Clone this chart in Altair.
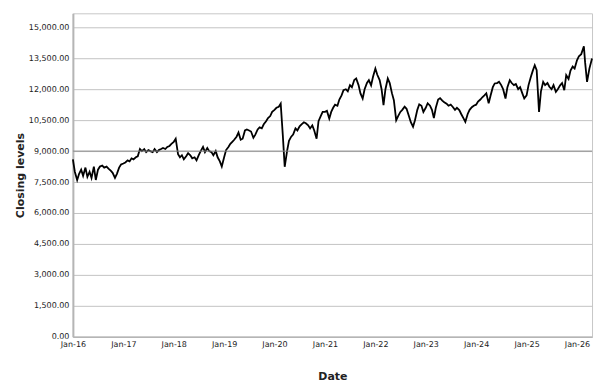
import altair as alt
import pandas as pd

# Semi-monthly closing levels (1st and 15th of each month)
v2016 = [8600, 8000, 7600, 7900, 8100, 7800, 8200, 7750, 8000, 7700, 8250, 7600,
         8100, 8250, 8300, 8200, 8250, 8150, 8050, 7950, 7700, 7900, 8200, 8350]
v2017 = [8400, 8450, 8550, 8500, 8650, 8600, 8700, 8750, 9100, 9000, 9100, 8950,
         9050, 9000, 8950, 9100, 8950, 9050, 9100, 9150, 9100, 9200, 9250, 9350]
v2018 = [9450, 9600, 8850, 8700, 8800, 8600, 8750, 8900, 8800, 8650, 8700, 8550,
         8800, 9000, 9200, 8950, 9150, 9000, 8950, 8800, 9000, 8700, 8500, 8250]
v2019 = [8700, 9050, 9200, 9350, 9450, 9550, 9700, 9900, 9550, 9600, 10000, 10050,
         10000, 9950, 9650, 9800, 10050, 10150, 10100, 10300, 10450, 10600, 10700, 10900]
v2020 = [11000, 11100, 11150, 11300, 9800, 8240, 9000, 9500, 9700, 9800, 10100, 10000,
         10200, 10300, 10400, 10350, 10250, 10100, 10250, 10000, 9600, 10450, 10700, 10900]
v2021 = [10900, 10950, 10580, 10900, 11100, 11250, 11200, 11500, 11700, 11950, 12000, 11900,
         12200, 12100, 12450, 12520, 12200, 11800, 11550, 12000, 12300, 12440, 12190, 12600]
v2022 = [13000, 12700, 12440, 12000, 11230, 12000, 12520, 12300, 11810, 11470, 10500, 10700,
         10900, 11000, 11150, 11050, 10700, 10400, 10180, 10500, 11000, 11270, 11200, 10900]
v2023 = [11100, 11320, 11200, 11000, 10600, 11100, 11500, 11570, 11450, 11370, 11300, 11200,
         11250, 11150, 11000, 11100, 10990, 10800, 10600, 10420, 10800, 11000, 11130, 11200]
v2024 = [11250, 11400, 11500, 11610, 11700, 11800, 11320, 11700, 12100, 12280, 12300, 12360,
         12200, 12000, 11550, 12100, 12440, 12300, 12200, 12250, 12000, 12100, 11800, 11550]
v2025 = [11700, 12200, 12600, 12900, 13160, 12920, 10900, 11900, 12360, 12200, 12300, 12120,
         12000, 12200, 11870, 12000, 12190, 12300, 11950, 12680, 12500, 12900, 13100, 13000]
v2026 = [13400, 13600, 13700, 14080, 13300, 12360, 13000, 13490]
dates2026 = ["2026-01-01", "2026-01-15", "2026-02-01", "2026-02-20",
             "2026-03-01", "2026-03-15", "2026-04-01", "2026-04-20"]

years = list(range(2016, 2026))
y_ticks = list(range(0, 15001, 1500))
ref_level = [9000]

dates = []
for yr in years:
    for m in range(1, 13):
        for d in (1, 15):
            dates.append(f"{yr}-{m:02d}-{d:02d}T00:00:00")
dates += [d + "T00:00:00" for d in dates2026]
values = v2016 + v2017 + v2018 + v2019 + v2020 + v2021 + v2022 + v2023 + v2024 + v2025 + v2026

df = pd.DataFrame({"date": dates, "close": values})
ref_df = pd.DataFrame({"close": ref_level})

x_ticks = [alt.DateTime(year=y, month=1, date=1) for y in range(2016, 2027)]

x_enc = alt.X(
    "date:T",
    title="Date",
    scale=alt.Scale(domain=[alt.DateTime(year=2016, month=1, date=1),
                            alt.DateTime(year=2026, month=4, date=20)]),
    axis=alt.Axis(values=x_ticks, format="%b-%y", grid=False, ticks=False,
                  labelPadding=4, domainColor="#b5b5b5", domainWidth=1.5,
                  titleY=34, titleBaseline="top", labelFlush=False,
                  labelOverlap=False),
)
y_enc = alt.Y(
    "close:Q",
    title="Closing levels",
    scale=alt.Scale(domain=[0, 15680], nice=False, zero=True),
    axis=alt.Axis(values=y_ticks, format=",.2f", ticks=False, labelPadding=4,
                  gridColor="#c3c3c3", gridWidth=1, domainColor="#b5b5b5",
                  domainWidth=2, titleX=-47, titleBaseline="bottom",
                  labelOverlap=False, labelFlush=False, tickCount=11),
)

rule = alt.Chart(ref_df).mark_rule(color="#8a8a8a", strokeWidth=1).encode(y=y_enc)

line = alt.Chart(df).mark_line(color="black", strokeWidth=1.8).encode(x=x_enc, y=y_enc)

chart = alt.layer(line, rule).properties(
    width=520, height=324,
    autosize=alt.AutoSizeParams(type="none"),
    padding={"left": 65, "top": 5, "right": 10, "bottom": 50},
).configure_view(
    stroke="#c8c8c8", strokeWidth=1
).configure_axis(
    labelFont="DejaVu Sans", labelFontSize=8, labelColor="#222222",
    titleFont="DejaVu Sans", titleFontSize=11, titleFontWeight="bold",
    titleColor="#222222",
)

chart.save("out.html", embed_options={"renderer": "svg", "actions": False})
